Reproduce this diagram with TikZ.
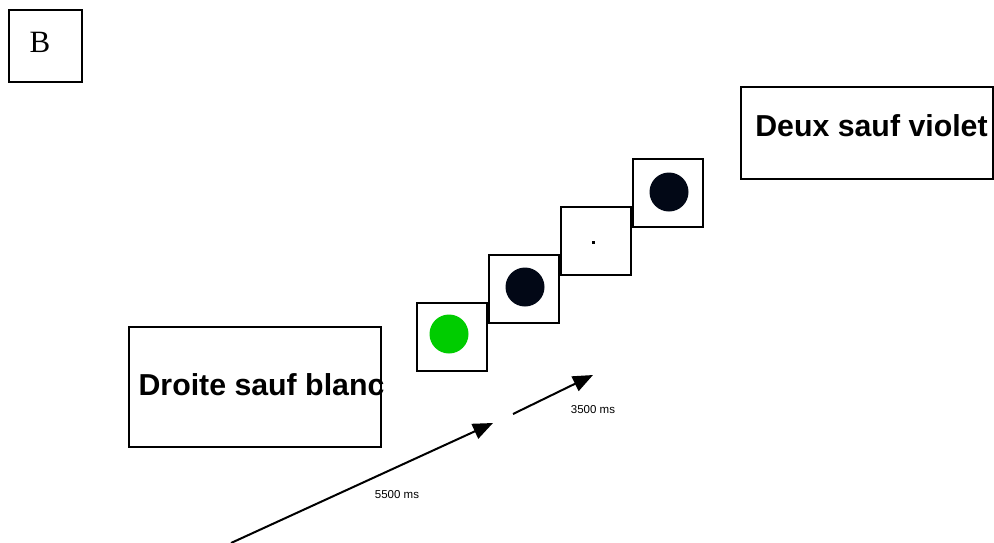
\documentclass[tikz,border=0pt]{standalone}
\usepackage{fontspec}
\setmainfont{Liberation Serif}
\setsansfont{Liberation Sans}
\usetikzlibrary{arrows.meta}
\definecolor{dotnavy}{HTML}{020816}
\definecolor{stimgreen}{HTML}{00CC00}
\tikzset{
  box/.style={draw=black, line width=2pt, fill=white, inner sep=0pt},
  frame/.style={box, minimum width=70pt, minimum height=68pt},
  bigtext/.style={font=\sffamily\bfseries\fontsize{30.3}{34}\selectfont, inner sep=0pt},
  smalltext/.style={font=\sffamily\fontsize{11.5}{13}\selectfont, inner sep=0pt},
  timearrow/.style={line width=2pt, -{Triangle[length=20pt, width=16pt]}},
}
\begin{document}
\begin{tikzpicture}[x=1pt, y=-1pt]
\useasboundingbox (0,0) rectangle (994,542);
% panel label
\node[box, minimum width=73pt, minimum height=72pt] (lab) at (45.5,46) {};
\node[inner sep=0pt, font=\fontsize{31}{34}\selectfont] (labtxt) at (40,42) {B};
% instruction boxes
\node[box, minimum width=252pt, minimum height=120pt] (droite) at (255,387) {};
\node[bigtext] (droitetxt) at (261.5,385) {Droite sauf blanc};
\node[box, minimum width=252pt, minimum height=92pt] (deux) at (867,133) {};
\node[bigtext] (deuxtxt) at (871.5,126) {Deux sauf violet};
% stimulus frames
\node[frame] (s1) at (452,337) {};
\node[frame] (s2) at (523.5,289) {};
\node[frame] (s3) at (596,241) {};
\node[frame] (s4) at (668,193) {};
\fill[stimgreen] (449,334) circle (19.5pt);
\fill[dotnavy] (525,287) circle (19.5pt);
\fill[black] (591.5,240.5) rectangle (594.5,243.5);
\fill[dotnavy] (669,192) circle (19.5pt);
% arrows
\coordinate (a1s) at (231,543);
\coordinate (a1e) at (493,423);
\coordinate (a2s) at (513,414);
\coordinate (a2e) at (593,375);
\draw[timearrow] (a1s) -- (a1e);
\draw[timearrow] (a2s) -- (a2e);
\node[smalltext] (t1) at (397,495) {5500 ms};
\node[smalltext] (t2) at (593,410) {3500 ms};
\end{tikzpicture}
\end{document}
